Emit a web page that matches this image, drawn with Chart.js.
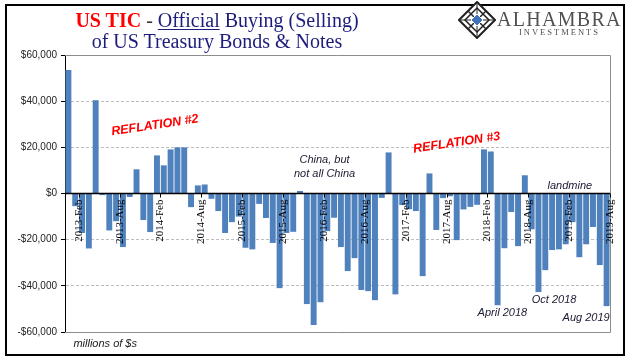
<!DOCTYPE html>
<html>
<head>
<meta charset="utf-8">
<script src="https://cdn.jsdelivr.net/npm/chart.js@4.4.1/dist/chart.umd.min.js"></script>
<style>
  html, body { margin: 0; padding: 0; background: #fff; }
  #wrap { position: relative; width: 641px; height: 361px; overflow: hidden; background: #fff; }
  #ticChart { position: absolute; left: 0; top: 0; }
  .title { position: absolute; left: 17px; top: 10px; width: 400px; text-align: center;
           font-family: 'Liberation Serif', serif; font-size: 20px; line-height: 21px; color: #1c1c7c; white-space: nowrap; }
  .title .red { color: #ff0000; font-weight: bold; }
  .title .dash { color: #333; }
  .title u { text-decoration-thickness: 1px; text-underline-offset: 2px; }
  .logo1 { position: absolute; left: 497px; top: 9px; font-family: 'Liberation Serif', serif; font-size: 20px;
           line-height: 20px; letter-spacing: 1.3px; color: #505050; white-space: nowrap; }
  .logo2 { position: absolute; left: 519px; top: 28px; font-family: 'Liberation Serif', serif; font-size: 8.5px;
           line-height: 9px; letter-spacing: 2px; color: #505050; white-space: nowrap; }
  #icon { position: absolute; left: 458px; top: 1px; }
</style>
</head>
<body>
<div id="wrap">
  <canvas id="ticChart" width="641" height="361"></canvas>
  <div class="title"><span class="red">US TIC</span><span class="dash"> - </span><u>Official</u> Buying (Selling)<br>of US Treasury Bonds &amp; Notes</div>
  <svg id="icon" width="38" height="38" viewBox="0 0 38 38">
    <polygon points="19,1 37,19 19,37 1,19" fill="#fff" stroke="#222" stroke-width="2"/>
    <polygon points="19,7 31,19 19,31 7,19" fill="none" stroke="#222" stroke-width="1.5"/>
    <line x1="10" y1="10" x2="28" y2="28" stroke="#222" stroke-width="1.5"/>
    <line x1="28" y1="10" x2="10" y2="28" stroke="#222" stroke-width="1.5"/>
    <line x1="19" y1="1" x2="19" y2="37" stroke="#222" stroke-width="1"/>
    <line x1="1" y1="19" x2="37" y2="19" stroke="#222" stroke-width="1"/>
    <polygon points="19,13 25,19 19,25 13,19" fill="#3f72b8" stroke="#fff" stroke-width="1"/>
  </svg>
  <div class="logo1">ALHAMBRA</div>
  <div class="logo2">INVESTMENTS</div>
</div>
<script>
  const months = [
    '2013-Jan','2013-Feb','2013-Mar','2013-Apr','2013-May','2013-Jun','2013-Jul','2013-Aug','2013-Sep','2013-Oct','2013-Nov','2013-Dec',
    '2014-Jan','2014-Feb','2014-Mar','2014-Apr','2014-May','2014-Jun','2014-Jul','2014-Aug','2014-Sep','2014-Oct','2014-Nov','2014-Dec',
    '2015-Jan','2015-Feb','2015-Mar','2015-Apr','2015-May','2015-Jun','2015-Jul','2015-Aug','2015-Sep','2015-Oct','2015-Nov','2015-Dec',
    '2016-Jan','2016-Feb','2016-Mar','2016-Apr','2016-May','2016-Jun','2016-Jul','2016-Aug','2016-Sep','2016-Oct','2016-Nov','2016-Dec',
    '2017-Jan','2017-Feb','2017-Mar','2017-Apr','2017-May','2017-Jun','2017-Jul','2017-Aug','2017-Sep','2017-Oct','2017-Nov','2017-Dec',
    '2018-Jan','2018-Feb','2018-Mar','2018-Apr','2018-May','2018-Jun','2018-Jul','2018-Aug','2018-Sep','2018-Oct','2018-Nov','2018-Dec',
    '2019-Jan','2019-Feb','2019-Mar','2019-Apr','2019-May','2019-Jun','2019-Jul','2019-Aug'
  ];

  // official net buying (selling), millions of $
  const official = [
    53500, -5500, -17100, -23800, 40400, -700, -16000, -12000, -23200, -1500, 10500, -11500,
    -16700, 16500, 12200, 19100, 20000, 20000, -5900, 3500, 3900, -2300, -7600, -17100,
    -12400, -10000, -23500, -24200, -4500, -10600, -21400, -41000, -17100, -16600, 1100, -47900,
    -57000, -47100, -16300, -10500, -23200, -33600, -28000, -41800, -42300, -46200, -1900, 17800,
    -43700, -5000, -6800, -7600, -35800, 8700, -15800, -2000, -1200, -20200, -6900, -5800,
    -4900, 19100, 18200, -48400, -23700, -8000, -22800, 7900, -15500, -42700, -33200, -24500,
    -24200, -22000, -12400, -27600, -22000, -14500, -31000, -48800
  ];

  const tickLabels = ['2013-Feb','2013-Aug','2014-Feb','2014-Aug','2015-Feb','2015-Aug','2016-Feb',
                      '2016-Aug','2017-Feb','2017-Aug','2018-Feb','2018-Aug','2019-Feb','2019-Aug'];

  const yTicks = [60000, 40000, 20000, 0, -20000, -40000, -60000];

  // text notes, anchored at (category index, value)
  const notes = [
    {text: 'REFLATION #2', at: 12.7, val: 29500, rot: -8.5, font: 'bold italic 12.5px "Liberation Sans"', color: '#ff0000'},
    {text: 'REFLATION #3', at: 57.0, val: 22000, rot: -8.5, font: 'bold italic 12.5px "Liberation Sans"', color: '#ff0000'},
    {text: 'China, but', at: 37.6, val: 14600},
    {text: 'not all China', at: 37.6, val: 8400},
    {text: 'landmine', at: 73.6, val: 3150},
    {text: 'April 2018', at: 63.7, val: -51950},
    {text: 'Oct 2018', at: 71.3, val: -46100},
    {text: 'Aug 2019', at: 76.0, val: -53950},
    {text: 'millions of $s', at: 5.4, val: -65100, color: '#222'}
  ];

  const fmt = v => (v < 0 ? '-' : '') + '$' + Math.abs(v).toLocaleString('en-US');

  const overlay = {
    id: 'overlay',
    beforeDraw(chart) {
      const ctx = chart.ctx;
      ctx.save();
      ctx.fillStyle = '#fff';
      ctx.fillRect(0, 0, chart.width, chart.height);
      ctx.restore();
    },
    afterDatasetsDraw(chart) {
      const {ctx, chartArea: a, scales: {x, y}} = chart;
      const zero = y.getPixelForValue(0);
      const step = x.getPixelForValue(1) - x.getPixelForValue(0);
      const px = idx => x.getPixelForValue(0) + idx * step;
      ctx.save();

      // plot frame
      ctx.strokeStyle = '#8c8c8c';
      ctx.lineWidth = 1;
      ctx.beginPath();
      ctx.moveTo(a.left, Math.round(a.top) + 0.5);
      ctx.lineTo(Math.round(a.right) + 0.5, Math.round(a.top) + 0.5);
      ctx.lineTo(Math.round(a.right) + 0.5, Math.round(a.bottom) + 0.5);
      ctx.lineTo(a.left, Math.round(a.bottom) + 0.5);
      ctx.stroke();

      // zero axis
      ctx.strokeStyle = '#000';
      ctx.lineWidth = 1.5;
      ctx.beginPath();
      ctx.moveTo(a.left, zero);
      ctx.lineTo(a.right, zero);
      ctx.stroke();

      // month ticks and labels
      ctx.lineWidth = 1;
      ctx.font = '11px "Liberation Serif"';
      ctx.fillStyle = '#000';
      ctx.textAlign = 'right';
      ctx.textBaseline = 'middle';
      tickLabels.forEach(t => {
        const tx = Math.round(px(months.indexOf(t) + 0.5)) + 0.5;
        ctx.beginPath();
        ctx.moveTo(tx, zero);
        ctx.lineTo(tx, zero + 4);
        ctx.stroke();
        ctx.save();
        ctx.translate(tx, zero + 6);
        ctx.rotate(-Math.PI / 2);
        ctx.fillText(t, 0, 0);
        ctx.restore();
      });

      // notes
      ctx.textAlign = 'center';
      notes.forEach(n => {
        ctx.save();
        ctx.translate(px(n.at), y.getPixelForValue(n.val));
        if (n.rot) ctx.rotate(n.rot * Math.PI / 180);
        ctx.font = n.font || 'italic 11px "Liberation Sans"';
        ctx.fillStyle = n.color || '#1a1a33';
        ctx.fillText(n.text, 0, 0);
        ctx.restore();
      });

      // outer frame
      ctx.strokeStyle = '#000';
      ctx.lineWidth = 2;
      ctx.strokeRect(6, 5, 618, 350);
      ctx.restore();
    }
  };

  const ctx = document.getElementById('ticChart').getContext('2d');
  const ticChart = new Chart(ctx, {
    type: 'bar',
    data: {
      labels: months,
      datasets: [{
        label: 'Official',
        data: official,
        backgroundColor: '#4f81bd',
        borderWidth: 0,
        categoryPercentage: 1,
        barPercentage: 0.87
      }]
    },
    options: {
      responsive: false,
      animation: false,
      devicePixelRatio: 1,
      layout: {padding: {left: 0, top: 55, right: 31, bottom: 29}},
      plugins: {legend: {display: false}, tooltip: {enabled: false}},
      scales: {
        x: {display: false},
        y: {
          min: -60000,
          max: 60000,
          afterFit: s => { s.width = 65; },
          afterBuildTicks: s => { s.ticks = yTicks.map(v => ({value: v})); },
          ticks: {
            callback: v => fmt(v),
            font: {family: 'Liberation Sans', size: 10},
            color: '#222',
            padding: 4
          },
          grid: {
            color: c => (c.tick && Math.abs(c.tick.value) % 60000 !== 0) ? '#bdbdbd' : 'rgba(0,0,0,0)',
            tickColor: '#000',
            tickLength: 4
          },
          border: {display: true, color: '#000', width: 1, dash: [3, 2]}
        }
      }
    },
    plugins: [overlay]
  });
</script>
</body>
</html>
